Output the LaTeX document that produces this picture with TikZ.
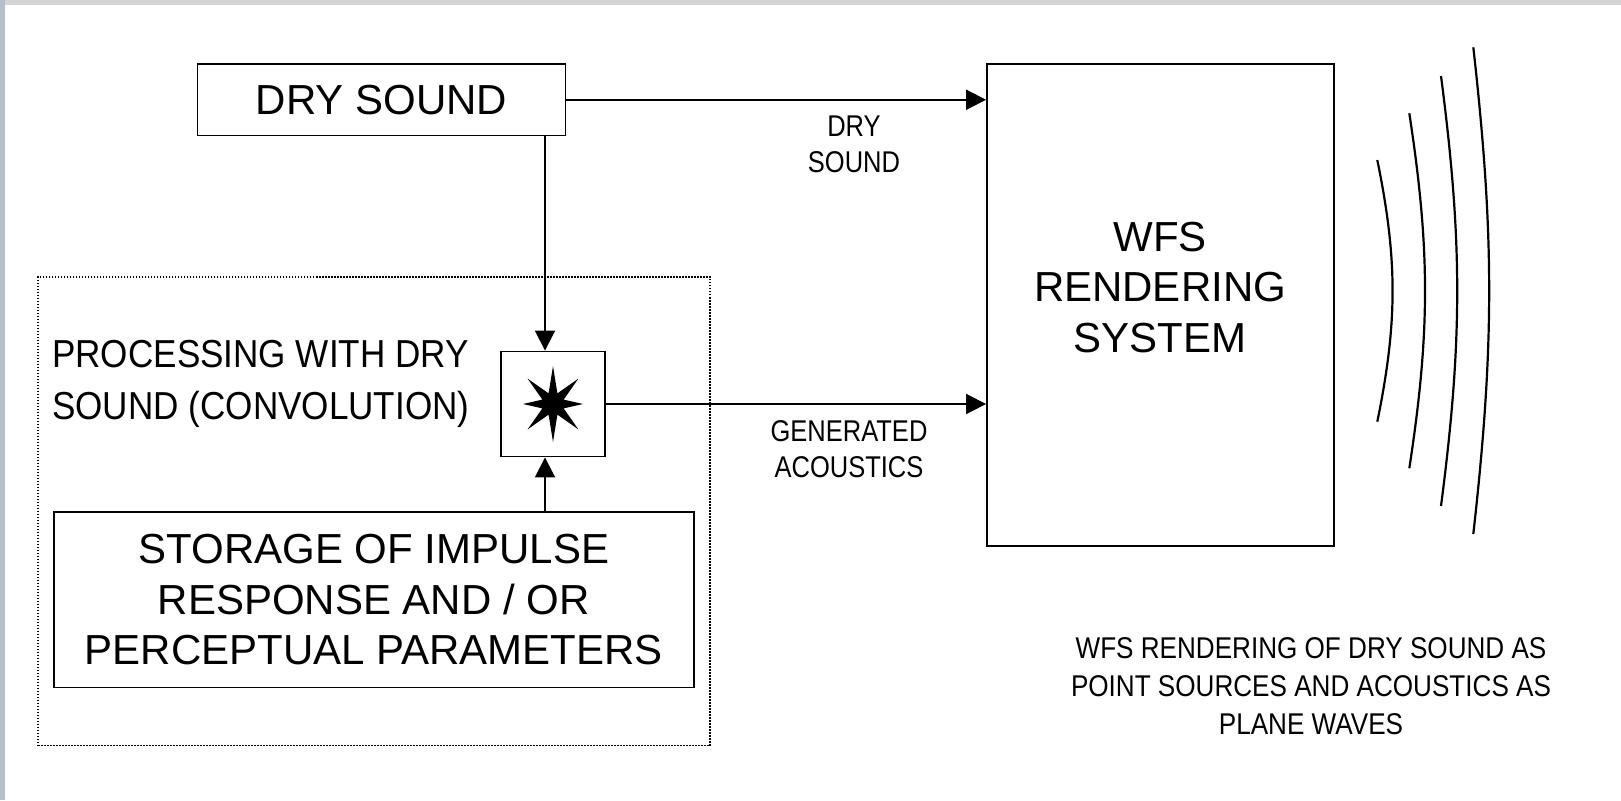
\documentclass[tikz,border=0pt]{standalone}
\usepackage{fontspec}
\setmainfont{Liberation Sans}
\newfontfamily\narrowfont[FakeStretch=0.85]{Liberation Sans}
\newfontfamily\notefont[FakeStretch=0.87]{Liberation Sans}
\newfontfamily\procfont[FakeStretch=0.9]{Liberation Sans}
\usepackage{tikz}
\usetikzlibrary{arrows.meta, calc}
\definecolor{framegray}{RGB}{211,212,213}
\definecolor{edgeblue}{RGB}{180,191,198}

\begin{document}
\begin{tikzpicture}[x=1pt,y=-1pt,
		box/.style={draw, line width=1.9pt, inner sep=0pt},
		arr/.style={line width=1.9pt, -{Triangle[length=20pt,width=20pt]}},
		bigtxt/.style={align=center, inner sep=0pt, font=\fontsize{42}{50.6}\selectfont},
		lbl/.style={align=center, inner sep=0pt, font=\narrowfont\fontsize{30}{36}\selectfont},
		wave/.style={line width=2.2pt}]
			\useasboundingbox (0,0) rectangle (1621,800);
			\fill[white] (0,0) rectangle (1621,800);
			\fill[framegray] (0,0) rectangle (1621,5);
			\fill[edgeblue] (0,0) rectangle (5,800);
			% blocks
			\node[box, bigtxt, minimum width=368pt, minimum height=71.5pt] (dry) at (381.5,99.75) {DRY SOUND};
			\node[box, minimum width=346.6pt, minimum height=482pt] (wfs) at (1160.3,305) {};
			\node[bigtxt] (wfstxt) at (1160,287.4) {WFS\\RENDERING\\SYSTEM};
			\node[draw, line width=1.6pt, dash pattern=on 1.5pt off 1.5pt, minimum width=672pt, minimum height=468.5pt] (proc) at (374,511.25) {};
			\node[anchor=west, inner sep=0pt, align=left, font=\procfont\fontsize{39}{51.7}\selectfont] (proctxt) at (52,384) {PROCESSING WITH DRY\\SOUND (CONVOLUTION)};
			\node[box, minimum width=104pt, minimum height=105pt] (conv) at (553,404) {};
			\node[box, bigtxt, minimum width=640pt, minimum height=175.8pt] (store) at (373.75,599.6) {STORAGE OF IMPULSE\\RESPONSE AND / OR\\PERCEPTUAL PARAMETERS};
			% convolution star
			\fill[shift={(conv.center)}] (90:38) \foreach \a/\r in {135/36,180/30,225/36,270/38,315/36,360/30,405/36,450/38} { -- ({\a-22.5}:11.5) -- (\a:\r) } -- cycle;
			% connectors
			\coordinate (tipx) at (545,0);
			\draw[arr] (dry.south -| tipx) -- (conv.north -| tipx);
			\draw[arr] (store.north -| tipx) -- (conv.south -| tipx);
			\draw[arr] (dry.east) -- (dry.east -| wfs.west);
			\draw[arr] (conv.east) -- (conv.east -| wfs.west);
			\node[lbl] (drylbl) at (854,144) {DRY\\SOUND};
			\node[lbl] (genlbl) at (849,449.5) {GENERATED\\ACOUSTICS};
			% wave fronts
			\foreach \x/\t/\b/\ang in {1377.3/160/421.7/11.5, 1409.3/113.3/468.3/8.7, 1441/76/506/7.4, 1473.3/47.3/534/6.4} {
				\draw[wave] (\x,\t) to[bend left=\ang] (\x,\b);
			};
			\node[lbl, font=\notefont\fontsize{30}{37.8}\selectfont] (note) at (1311,686) {WFS RENDERING OF DRY SOUND AS\\POINT SOURCES AND ACOUSTICS AS\\PLANE WAVES};
		\end{tikzpicture}
\end{document}
